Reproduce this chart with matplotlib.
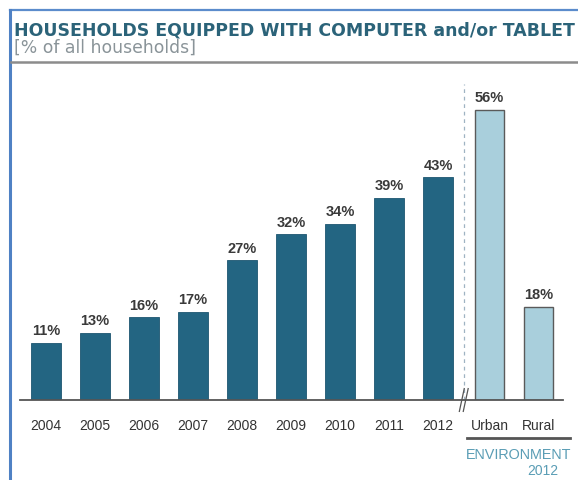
# Households equipped with computer and/or tablet - bar chart

from matplotlib import pyplot as plt
from matplotlib.lines import Line2D
import numpy as np

years = ['2004', '2005', '2006', '2007', '2008', '2009', '2010', '2011', '2012']
year_values = [11, 13, 16, 17, 27, 32, 34, 39, 43]
env_labels = ['Urban', 'Rural']
env_values = [56, 18]

W, H = 578, 481
dark = '#236582'
light = '#a9cfdc'

plt.rcParams['font.family'] = ['Liberation Sans', 'DejaVu Sans']

fig = plt.figure(figsize=(W / 100, H / 100), dpi=100)


def fx(px):
  return px / W


def fy(py):
  # pixel from top -> figure fraction from bottom
  return 1 - py / H


# frame around the panel
fig.add_artist(Line2D([fx(10), fx(W)], [fy(11), fy(11)], color='#5b8ccc', lw=1.6))
fig.add_artist(Line2D([fx(10), fx(10)], [fy(11), 0], color='#4f81c4', lw=2.2))
fig.add_artist(Line2D([fx(11), fx(W)], [fy(62.5), fy(62.5)], color='#8c8c8c', lw=1.8))

fig.text(fx(14), fy(30), 'HOUSEHOLDS EQUIPPED WITH COMPUTER and/or TABLET',
         family='DejaVu Sans', fontsize=12.5, fontweight='bold', color='#2b6379',
         va='center', ha='left')
fig.text(fx(14), fy(48), '[% of all households]', family='DejaVu Sans',
         fontsize=12.4, color='#8a9499', va='center', ha='left')

# plot area, baseline at y=401 px
ax = fig.add_axes([fx(20), fy(401), fx(563) - fx(20), fy(62) - fy(401)])
x_years = np.arange(len(years))
x_env = len(years) + 0.05 + np.arange(len(env_labels))

ax.bar(x_years, year_values, width=0.61, color=dark, edgecolor='#1d5670', lw=0.6)
ax.bar(x_env, env_values, width=0.61, color=light, edgecolor='#5a5a5a', lw=1.0)

for x, v in zip(list(x_years) + list(x_env), year_values + env_values):
  ax.annotate(f'{v}%', (x, v), xytext=(0, 4), textcoords='offset points',
              ha='center', va='bottom', fontsize=10.5, fontweight='bold', color='#3a3a3a')

ax.set_xlim(-0.53, 10.55)
ax.set_ylim(0, 339 / 5.18)
ax.set_xticks(list(x_years) + list(x_env), years + env_labels)
ax.tick_params(axis='x', length=0, pad=13, labelsize=10, labelcolor='#333333')
ax.set_yticks([])
for s in ['top', 'right', 'left']:
  ax.spines[s].set_visible(False)
ax.spines['bottom'].set_color('#555555')
ax.spines['bottom'].set_linewidth(1.3)
ax.patch.set_alpha(0)

# separator between years and environment
sep = (x_years[-1] + x_env[0]) / 2
ax.plot([sep, sep], [0, 61], color='#9fb3c2', lw=0.9, ls=(0, (3, 3)), clip_on=False)
# axis break mark
for dx in (-0.04, 0.04):
  ax.plot([sep + dx - 0.05, sep + dx + 0.05], [-2.2, 2.2], color='#555555', lw=0.9,
          clip_on=False)

# environment group label
fig.add_artist(Line2D([fx(467), fx(570)], [fy(439), fy(439)], color='#555555', lw=2))
fig.text(fx(466), fy(455), 'ENVIRONMENT', fontsize=10.4, color='#5a9db5',
         ha='left', va='center')
fig.text(fx(543), fy(471), '2012', fontsize=10, color='#5a9db5', ha='center', va='center')

fig.savefig('out.png', dpi=100)
